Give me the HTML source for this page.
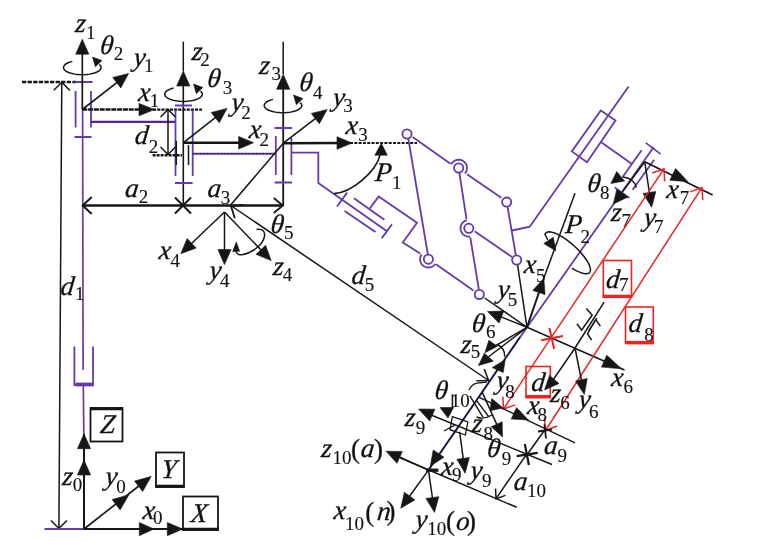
<!DOCTYPE html>
<html><head><meta charset="utf-8"><style>
html,body{margin:0;padding:0;background:#fff;}
svg{display:block;will-change:transform;}
text{font-family:"Liberation Serif",serif;stroke:#111;stroke-width:0.28px;} text.s{stroke-width:0.12px;}
</style></head><body>
<svg width="760" height="554" viewBox="0 0 760 554">
<rect width="760" height="554" fill="#fff"/>
<line x1="22" y1="82" x2="76" y2="82" stroke="#161616" stroke-width="2.3" stroke-linecap="butt" stroke-dasharray="4.3 1.3"/>
<line x1="74.5" y1="82" x2="92.5" y2="82" stroke="#663aa8" stroke-width="2" stroke-linecap="butt"/>
<line x1="61.8" y1="82.3" x2="58.9" y2="528.5" stroke="#161616" stroke-width="1.5" stroke-linecap="butt"/>
<polyline points="69.75,90.35 61.8,82.3 53.75,90.25" fill="none" stroke="#161616" stroke-width="1.5" stroke-linejoin="miter"/>
<polyline points="50.94,520.46 58.9,528.5 66.94,520.54" fill="none" stroke="#161616" stroke-width="1.5" stroke-linejoin="miter"/>
<line x1="82.3" y1="109.5" x2="82.3" y2="49.7" stroke="#161616" stroke-width="1.7" stroke-linecap="butt"/>
<polygon points="82.3,39.2 88.9,54.2 75.7,54.2" fill="#161616" stroke="#161616" stroke-width="0.6" stroke-linejoin="miter"/>
<line x1="82.6" y1="109.5" x2="83.1" y2="370" stroke="#663aa8" stroke-width="1.7" stroke-linecap="butt"/>
<line x1="75.6" y1="91" x2="75.6" y2="127.5" stroke="#663aa8" stroke-width="1.8" stroke-linecap="butt"/>
<line x1="91" y1="91" x2="91" y2="127.5" stroke="#663aa8" stroke-width="1.8" stroke-linecap="butt"/>
<line x1="74.5" y1="137" x2="91.5" y2="137" stroke="#663aa8" stroke-width="2" stroke-linecap="butt"/>
<line x1="91" y1="121.9" x2="176" y2="121.9" stroke="#56248f" stroke-width="2.4" stroke-linecap="butt"/>
<polyline points="72.34,61.39 70.58,61.87 68.97,62.42 67.54,63.04 66.3,63.72 65.28,64.44 64.48,65.21 63.91,66.01 63.58,66.82 63.5,67.65 63.67,68.47 64.08,69.28 64.74,70.07 65.62,70.82 66.72,71.53 68.03,72.19 69.53,72.78 71.19,73.31 73,73.76 74.93,74.12 76.96,74.4 79.06,74.59 81.2,74.69 83.36,74.69 85.5,74.59 87.6,74.41 89.63,74.13 91.56,73.77 93.38,73.32 95.04,72.79 96.54,72.2 97.85,71.54 98.96,70.84 99.85,70.08 100.51,69.3 100.92,68.49 101.1,67.66 101.02,66.84 100.7,66.02 100.14,65.22 99.34,64.46" fill="none" stroke="#161616" stroke-width="1.5" stroke-linejoin="miter"/>
<polygon points="92.5,57 101.93,60.51 95.35,66.65" fill="#161616" stroke="#161616" stroke-width="0.6" stroke-linejoin="miter"/>
<line x1="82.3" y1="109.6" x2="143" y2="109.6" stroke="#161616" stroke-width="2.5" stroke-linecap="butt" stroke-dasharray="5 0.8"/>
<polygon points="154.5,109.6 139,115.8 139,103.4" fill="#161616" stroke="#161616" stroke-width="0.6" stroke-linejoin="miter"/>
<line x1="153" y1="109.6" x2="202" y2="109.6" stroke="#161616" stroke-width="2.3" stroke-linecap="butt" stroke-dasharray="3.2 1"/>
<line x1="82.3" y1="109.5" x2="120.31" y2="79.95" stroke="#161616" stroke-width="1.6" stroke-linecap="butt"/>
<polygon points="128.6,73.5 120.81,87.92 112.71,77.5" fill="#161616" stroke="#161616" stroke-width="0.6" stroke-linejoin="miter"/>
<polyline points="74.4,346.4 74.4,385 93,385 93,346.4" fill="none" stroke="#663aa8" stroke-width="1.8" stroke-linejoin="miter"/>
<line x1="75.5" y1="384.5" x2="93.3" y2="384.5" stroke="#663aa8" stroke-width="3.8" stroke-linecap="butt"/>
<line x1="83.3" y1="385" x2="83.8" y2="434" stroke="#663aa8" stroke-width="1.7" stroke-linecap="butt"/>
<line x1="44.5" y1="529" x2="84" y2="529" stroke="#663aa8" stroke-width="2" stroke-linecap="butt"/>
<line x1="84" y1="529" x2="84" y2="434" stroke="#161616" stroke-width="2" stroke-linecap="butt"/>
<polygon points="84,433.7 90.6,448.7 77.4,448.7" fill="#161616" stroke="#161616" stroke-width="0.6" stroke-linejoin="miter"/>
<polygon points="84,460 90.6,475 77.4,475" fill="#161616" stroke="#161616" stroke-width="0.6" stroke-linejoin="miter"/>
<line x1="84" y1="529.1" x2="184" y2="529.1" stroke="#161616" stroke-width="2" stroke-linecap="butt"/>
<polygon points="153.8,529.1 139.3,535.7 139.3,522.5" fill="#161616" stroke="#161616" stroke-width="0.6" stroke-linejoin="miter"/>
<polygon points="182.8,529.1 167.3,535.7 167.3,522.5" fill="#161616" stroke="#161616" stroke-width="0.6" stroke-linejoin="miter"/>
<line x1="84" y1="529" x2="149" y2="478" stroke="#161616" stroke-width="1.6" stroke-linecap="butt"/>
<polygon points="128.8,494.9 120.12,509.88 112.09,499.4" fill="#161616" stroke="#161616" stroke-width="0.6" stroke-linejoin="miter"/>
<polygon points="151.2,476.4 142.67,491.46 134.53,481.07" fill="#161616" stroke="#161616" stroke-width="0.6" stroke-linejoin="miter"/>
<rect x="90.5" y="408" width="32.0" height="33.5" fill="none" stroke="#161616" stroke-width="1.8"/>
<line x1="90" y1="408.8" x2="123" y2="408.8" stroke="#161616" stroke-width="3" stroke-linecap="butt"/>
<text x="99.53" y="433.35" font-size="27" font-style="italic" fill="#111" transform="translate(99.53,433.35) skewX(-6) translate(-99.53,-433.35)">Z</text>
<rect x="156" y="452.5" width="28" height="34.5" fill="none" stroke="#161616" stroke-width="1.8"/>
<line x1="155.5" y1="486.2" x2="184.5" y2="486.2" stroke="#161616" stroke-width="3" stroke-linecap="butt"/>
<text x="160.84" y="478.15" font-size="27" font-style="italic" fill="#111" transform="translate(160.84,478.15) skewX(-6) translate(-160.84,-478.15)">Y</text>
<rect x="183" y="496.5" width="35" height="33.5" fill="none" stroke="#161616" stroke-width="1.8"/>
<line x1="182.5" y1="529.2" x2="218.5" y2="529.2" stroke="#161616" stroke-width="3" stroke-linecap="butt"/>
<text x="190.21" y="521.55" font-size="27" font-style="italic" fill="#111" transform="translate(190.21,521.55) skewX(-6) translate(-190.21,-521.55)">X</text>
<text x="61.87" y="484.92" font-size="27" font-style="italic" fill="#111" transform="translate(61.87,484.92) skewX(-6) translate(-61.87,-484.92)">z</text>
<text class="s" x="72.74" y="491.35" font-size="19" font-style="normal" fill="#111">0</text>
<text x="104.66" y="485.42" font-size="27" font-style="italic" fill="#111" transform="translate(104.66,485.42) skewX(-6) translate(-104.66,-485.42)">y</text>
<text class="s" x="116.24" y="492.75" font-size="19" font-style="normal" fill="#111">0</text>
<text x="142.27" y="519.32" font-size="27" font-style="italic" fill="#111" transform="translate(142.27,519.32) skewX(-6) translate(-142.27,-519.32)">x</text>
<text class="s" x="153.04" y="524.35" font-size="19" font-style="normal" fill="#111">0</text>
<text x="59.99" y="295.03" font-size="27" font-style="italic" fill="#111" transform="translate(59.99,295.03) skewX(-6) translate(-59.99,-295.03)">d</text>
<text class="s" x="74.89" y="299.54" font-size="19" font-style="normal" fill="#111">1</text>
<line x1="183.3" y1="205.5" x2="183.3" y2="81.5" stroke="#161616" stroke-width="1.6" stroke-linecap="butt"/>
<polygon points="183.3,71 189.9,86 176.7,86" fill="#161616" stroke="#161616" stroke-width="0.6" stroke-linejoin="miter"/>
<line x1="183.3" y1="71" x2="183.3" y2="41.7" stroke="#161616" stroke-width="1.5" stroke-linecap="butt"/>
<polyline points="173.54,88.09 171.78,88.57 170.17,89.12 168.74,89.74 167.5,90.42 166.48,91.14 165.68,91.91 165.11,92.71 164.78,93.52 164.7,94.35 164.87,95.17 165.28,95.98 165.94,96.77 166.82,97.52 167.92,98.23 169.23,98.89 170.73,99.48 172.39,100.01 174.2,100.46 176.13,100.82 178.16,101.1 180.26,101.29 182.4,101.39 184.56,101.39 186.7,101.29 188.8,101.11 190.83,100.83 192.76,100.47 194.58,100.02 196.24,99.49 197.74,98.9 199.05,98.24 200.16,97.54 201.05,96.78 201.71,96 202.12,95.19 202.3,94.36 202.22,93.54 201.9,92.72 201.34,91.92 200.54,91.16" fill="none" stroke="#161616" stroke-width="1.5" stroke-linejoin="miter"/>
<polygon points="193.5,84 202.93,87.51 196.35,93.65" fill="#161616" stroke="#161616" stroke-width="0.6" stroke-linejoin="miter"/>
<line x1="175" y1="105.5" x2="192" y2="105.5" stroke="#663aa8" stroke-width="2" stroke-linecap="butt"/>
<line x1="175.5" y1="110" x2="175.5" y2="176" stroke="#663aa8" stroke-width="1.8" stroke-linecap="butt"/>
<line x1="192.7" y1="110" x2="192.7" y2="176" stroke="#663aa8" stroke-width="1.8" stroke-linecap="butt"/>
<line x1="175" y1="183" x2="192.6" y2="183" stroke="#663aa8" stroke-width="2" stroke-linecap="butt"/>
<line x1="168" y1="109.5" x2="168" y2="154.5" stroke="#161616" stroke-width="1.5" stroke-linecap="butt"/>
<polyline points="175.5,117 168,109.5 160.5,117" fill="none" stroke="#161616" stroke-width="1.5" stroke-linejoin="miter"/>
<polyline points="160.5,147 168,154.5 175.5,147" fill="none" stroke="#161616" stroke-width="1.5" stroke-linejoin="miter"/>
<line x1="152.6" y1="155.2" x2="182" y2="155.2" stroke="#161616" stroke-width="2.6" stroke-linecap="butt" stroke-dasharray="3 1"/>
<line x1="176.3" y1="141" x2="176.3" y2="165" stroke="#161616" stroke-width="1.5" stroke-linecap="butt"/>
<line x1="188.5" y1="145" x2="188.5" y2="165" stroke="#161616" stroke-width="1.5" stroke-linecap="butt"/>
<line x1="183.5" y1="142.7" x2="243.1" y2="142.7" stroke="#161616" stroke-width="2.5" stroke-linecap="butt"/>
<polygon points="253.6,142.7 238.6,149 238.6,136.4" fill="#161616" stroke="#161616" stroke-width="0.6" stroke-linejoin="miter"/>
<line x1="183.5" y1="142.7" x2="218.75" y2="114.9" stroke="#161616" stroke-width="1.6" stroke-linecap="butt"/>
<polygon points="227,108.4 219.31,122.87 211.13,112.5" fill="#161616" stroke="#161616" stroke-width="0.6" stroke-linejoin="miter"/>
<line x1="192.7" y1="153.8" x2="276" y2="153.8" stroke="#663aa8" stroke-width="2" stroke-linecap="butt"/>
<line x1="192.7" y1="153.8" x2="276" y2="153.8" stroke="#161616" stroke-width="1" stroke-linecap="butt" stroke-dasharray="1.5 2"/>
<line x1="82.7" y1="205.5" x2="283" y2="205.5" stroke="#161616" stroke-width="2.4" stroke-linecap="butt"/>
<polyline points="91.7,197 82.7,205.5 91.7,214" fill="none" stroke="#161616" stroke-width="2" stroke-linejoin="miter"/>
<line x1="175" y1="197.5" x2="191" y2="213.5" stroke="#161616" stroke-width="2" stroke-linecap="butt"/>
<line x1="175" y1="213.5" x2="191" y2="197.5" stroke="#161616" stroke-width="2" stroke-linecap="butt"/>
<polyline points="243.77,204.99 231,206 234.79,218.23" fill="none" stroke="#161616" stroke-width="1.8" stroke-linejoin="miter"/>
<polyline points="273.8,213 282.8,205.5 273.8,198" fill="none" stroke="#161616" stroke-width="1.8" stroke-linejoin="miter"/>
<text x="124.39" y="196.69" font-size="27" font-style="italic" fill="#111" transform="translate(124.39,196.69) skewX(-6) translate(-124.39,-196.69)">a</text>
<text class="s" x="138.84" y="202.65" font-size="19" font-style="normal" fill="#111">2</text>
<text x="206.99" y="196.69" font-size="27" font-style="italic" fill="#111" transform="translate(206.99,196.69) skewX(-6) translate(-206.99,-196.69)">a</text>
<text class="s" x="220.75" y="203.85" font-size="19" font-style="normal" fill="#111">3</text>
<text x="191.27" y="60.42" font-size="27" font-style="italic" fill="#111" transform="translate(191.27,60.42) skewX(-6) translate(-191.27,-60.42)">z</text>
<text class="s" x="200.34" y="65.85" font-size="19" font-style="normal" fill="#111">2</text>
<text x="206.85" y="86.9" font-size="27" font-style="italic" fill="#111" transform="translate(206.85,86.9) skewX(-6) translate(-206.85,-86.9)">θ</text>
<text class="s" x="222.65" y="94.05" font-size="19" font-style="normal" fill="#111">3</text>
<text x="230.76" y="110.82" font-size="27" font-style="italic" fill="#111" transform="translate(230.76,110.82) skewX(-6) translate(-230.76,-110.82)">y</text>
<text class="s" x="241.24" y="119.05" font-size="19" font-style="normal" fill="#111">2</text>
<text x="248.47" y="137.72" font-size="27" font-style="italic" fill="#111" transform="translate(248.47,137.72) skewX(-6) translate(-248.47,-137.72)">x</text>
<text class="s" x="259.44" y="145.85" font-size="19" font-style="normal" fill="#111">2</text>
<text x="134.19" y="143.63" font-size="27" font-style="italic" fill="#111" transform="translate(134.19,143.63) skewX(-6) translate(-134.19,-143.63)">d</text>
<text class="s" x="148.74" y="152.85" font-size="19" font-style="normal" fill="#111">2</text>
<text x="74.77" y="32.42" font-size="27" font-style="italic" fill="#111" transform="translate(74.77,32.42) skewX(-6) translate(-74.77,-32.42)">z</text>
<text class="s" x="86.09" y="39.04" font-size="19" font-style="normal" fill="#111">1</text>
<text x="99.55" y="54" font-size="27" font-style="italic" fill="#111" transform="translate(99.55,54) skewX(-6) translate(-99.55,-54)">θ</text>
<text class="s" x="113.64" y="60.45" font-size="19" font-style="normal" fill="#111">2</text>
<text x="132.96" y="65.92" font-size="27" font-style="italic" fill="#111" transform="translate(132.96,65.92) skewX(-6) translate(-132.96,-65.92)">y</text>
<text class="s" x="144.09" y="71.84" font-size="19" font-style="normal" fill="#111">1</text>
<text x="137.87" y="100.92" font-size="27" font-style="italic" fill="#111" transform="translate(137.87,100.92) skewX(-6) translate(-137.87,-100.92)">x</text>
<text class="s" x="149.79" y="106.84" font-size="19" font-style="normal" fill="#111">1</text>
<line x1="283.2" y1="205.9" x2="283.2" y2="84.8" stroke="#161616" stroke-width="1.8" stroke-linecap="butt"/>
<polygon points="283.2,74.3 289.8,89.3 276.6,89.3" fill="#161616" stroke="#161616" stroke-width="0.6" stroke-linejoin="miter"/>
<line x1="283.2" y1="74.3" x2="283.2" y2="41.7" stroke="#161616" stroke-width="1.5" stroke-linecap="butt"/>
<polyline points="273.04,99.39 271.28,99.87 269.67,100.42 268.24,101.04 267,101.72 265.98,102.44 265.18,103.21 264.61,104.01 264.28,104.82 264.2,105.65 264.37,106.47 264.78,107.28 265.44,108.07 266.32,108.82 267.42,109.53 268.73,110.19 270.23,110.78 271.89,111.31 273.7,111.76 275.63,112.12 277.66,112.4 279.76,112.59 281.9,112.69 284.06,112.69 286.2,112.59 288.3,112.41 290.33,112.13 292.26,111.77 294.08,111.32 295.74,110.79 297.24,110.2 298.55,109.54 299.66,108.84 300.55,108.08 301.21,107.3 301.62,106.49 301.8,105.66 301.72,104.84 301.4,104.02 300.84,103.22 300.04,102.46" fill="none" stroke="#161616" stroke-width="1.5" stroke-linejoin="miter"/>
<polygon points="293.5,95 302.93,98.51 296.35,104.65" fill="#161616" stroke="#161616" stroke-width="0.6" stroke-linejoin="miter"/>
<line x1="274.5" y1="128" x2="292" y2="128" stroke="#663aa8" stroke-width="2" stroke-linecap="butt"/>
<line x1="275.8" y1="136" x2="275.8" y2="175" stroke="#663aa8" stroke-width="1.8" stroke-linecap="butt"/>
<line x1="291.4" y1="138" x2="291.4" y2="175" stroke="#663aa8" stroke-width="1.8" stroke-linecap="butt"/>
<line x1="274.5" y1="182.5" x2="292" y2="182.5" stroke="#663aa8" stroke-width="2" stroke-linecap="butt"/>
<line x1="283.3" y1="143.2" x2="341.5" y2="143.03" stroke="#161616" stroke-width="2.5" stroke-linecap="butt"/>
<polygon points="352,143 337.02,149.34 336.98,136.74" fill="#161616" stroke="#161616" stroke-width="0.6" stroke-linejoin="miter"/>
<line x1="350" y1="143" x2="417" y2="143" stroke="#161616" stroke-width="2.2" stroke-linecap="butt" stroke-dasharray="3 1.3"/>
<line x1="283.3" y1="143.2" x2="318.87" y2="115.89" stroke="#161616" stroke-width="1.6" stroke-linecap="butt"/>
<polygon points="327.2,109.5 319.32,123.87 311.28,113.4" fill="#161616" stroke="#161616" stroke-width="0.6" stroke-linejoin="miter"/>
<line x1="283.3" y1="143.2" x2="230.4" y2="205.3" stroke="#161616" stroke-width="1.5" stroke-linecap="butt"/>
<text x="258.77" y="73.72" font-size="27" font-style="italic" fill="#111" transform="translate(258.77,73.72) skewX(-6) translate(-258.77,-73.72)">z</text>
<text class="s" x="271.55" y="80.05" font-size="19" font-style="normal" fill="#111">3</text>
<text x="298.65" y="90.6" font-size="27" font-style="italic" fill="#111" transform="translate(298.65,90.6) skewX(-6) translate(-298.65,-90.6)">θ</text>
<text class="s" x="313.02" y="98.55" font-size="19" font-style="normal" fill="#111">4</text>
<text x="332.16" y="106.02" font-size="27" font-style="italic" fill="#111" transform="translate(332.16,106.02) skewX(-6) translate(-332.16,-106.02)">y</text>
<text class="s" x="343.35" y="112.35" font-size="19" font-style="normal" fill="#111">3</text>
<text x="345.27" y="134.12" font-size="27" font-style="italic" fill="#111" transform="translate(345.27,134.12) skewX(-6) translate(-345.27,-134.12)">x</text>
<text class="s" x="358.25" y="140.85" font-size="19" font-style="normal" fill="#111">3</text>
<polyline points="291.4,152.7 318.3,152.7 318.3,183 387,231.2" fill="none" stroke="#663aa8" stroke-width="1.8" stroke-linejoin="miter"/>
<line x1="337" y1="206.5" x2="347.1" y2="192.6" stroke="#663aa8" stroke-width="1.8" stroke-linecap="butt"/>
<line x1="381.8" y1="238.1" x2="392" y2="224.2" stroke="#663aa8" stroke-width="1.8" stroke-linecap="butt"/>
<line x1="344.6" y1="211" x2="375.5" y2="232" stroke="#663aa8" stroke-width="1.8" stroke-linecap="butt"/>
<line x1="354" y1="198.3" x2="384.4" y2="219.8" stroke="#663aa8" stroke-width="1.8" stroke-linecap="butt"/>
<polyline points="369.8,208.4 378.7,196.4 417,222.8 402.8,242.6 420.2,253.5" fill="none" stroke="#663aa8" stroke-width="1.8" stroke-linejoin="miter"/>
<path d="M334.2,193.6 C352,192.5 376,172 380.2,154.5" fill="none" stroke="#161616" stroke-width="1.6"/>
<polygon points="381.3,143.3 387.3,155.2 374.8,155.2" fill="#161616" stroke="#161616" stroke-width="0.6" stroke-linejoin="miter"/>
<text x="374.4" y="180.95" font-size="27" font-style="italic" fill="#111" transform="translate(374.4,180.95) skewX(-6) translate(-374.4,-180.95)">P</text>
<text class="s" x="391.89" y="189.34" font-size="19" font-style="normal" fill="#111">1</text>
<line x1="407.5" y1="134" x2="427.8" y2="254" stroke="#663aa8" stroke-width="1.8" stroke-linecap="butt"/>
<line x1="412.6" y1="137" x2="450.5" y2="163.8" stroke="#663aa8" stroke-width="1.8" stroke-linecap="butt"/>
<line x1="467" y1="174.3" x2="501.3" y2="197.7" stroke="#663aa8" stroke-width="1.8" stroke-linecap="butt"/>
<line x1="459.4" y1="173" x2="466.5" y2="219.2" stroke="#663aa8" stroke-width="1.8" stroke-linecap="butt"/>
<line x1="507.6" y1="207.2" x2="515.8" y2="255" stroke="#663aa8" stroke-width="1.8" stroke-linecap="butt"/>
<polyline points="512,230.5 529.7,226.7 628.6,86.4" fill="none" stroke="#663aa8" stroke-width="1.8" stroke-linejoin="miter"/>
<line x1="474.6" y1="231.3" x2="512" y2="257" stroke="#663aa8" stroke-width="1.8" stroke-linecap="butt"/>
<line x1="470.3" y1="237.5" x2="478.8" y2="289.2" stroke="#663aa8" stroke-width="1.8" stroke-linecap="butt"/>
<line x1="436" y1="264.2" x2="473.4" y2="290.4" stroke="#663aa8" stroke-width="1.8" stroke-linecap="butt"/>
<polyline points="451.3,164.23 451.65,163.62 452.05,163.03 452.5,162.49 452.99,161.98 453.52,161.52 454.09,161.1 454.69,160.73 455.32,160.42 455.98,160.16 456.66,159.96 457.35,159.81 458.05,159.73 458.75,159.7 459.46,159.73 460.16,159.83 460.85,159.98 461.52,160.19 462.17,160.46 462.8,160.78 463.4,161.16 463.97,161.58 464.49,162.05 464.98,162.57 465.41,163.12 465.81,163.71 466.14,164.33 466.43,164.97 466.66,165.64 466.83,166.33 466.94,167.02 467,167.73 466.99,168.43 466.92,169.14 466.8,169.83 466.61,170.51 466.37,171.18 466.07,171.82 465.72,172.43 465.32,173.01 464.87,173.55" fill="none" stroke="#663aa8" stroke-width="1.8" stroke-linejoin="miter"/>
<polyline points="466.79,220.25 466.18,220.42 465.59,220.65 465.02,220.91 464.46,221.22 463.94,221.57 463.44,221.97 462.97,222.39 462.54,222.85 462.14,223.35 461.78,223.87 461.46,224.42 461.19,224.99 460.96,225.58 460.77,226.19 460.64,226.81 460.55,227.43 460.5,228.06 460.51,228.7 460.56,229.33 460.67,229.95 460.82,230.57 461.01,231.17 461.25,231.76 461.54,232.32 461.87,232.87 462.24,233.38 462.64,233.87 463.09,234.32 463.56,234.74 464.07,235.12 464.6,235.46 465.16,235.76 465.74,236.02 466.34,236.23 466.95,236.39 467.57,236.51 468.2,236.58 468.84,236.6 469.47,236.57 470.1,236.5" fill="none" stroke="#663aa8" stroke-width="1.8" stroke-linejoin="miter"/>
<polyline points="421.6,254.44 421.24,254.99 420.93,255.57 420.67,256.18 420.45,256.8 420.29,257.44 420.17,258.09 420.11,258.74 420.1,259.4 420.14,260.06 420.24,260.71 420.38,261.36 420.58,261.98 420.83,262.6 421.12,263.19 421.46,263.75 421.84,264.29 422.27,264.79 422.73,265.26 423.23,265.69 423.76,266.08 424.32,266.43 424.91,266.73 425.51,266.98 426.14,267.19 426.78,267.34 427.43,267.44 428.09,267.49 428.75,267.49 429.4,267.44 430.05,267.33 430.69,267.18 431.32,266.97 431.93,266.71 432.51,266.41 433.07,266.06 433.6,265.67 434.1,265.24 434.56,264.76 434.98,264.26 435.36,263.72" fill="none" stroke="#663aa8" stroke-width="1.8" stroke-linejoin="miter"/>
<circle cx="407" cy="134" r="4.6" fill="#f8f8f8" stroke="#663aa8" stroke-width="1.8"/>
<circle cx="458.7" cy="168" r="4.6" fill="#f8f8f8" stroke="#663aa8" stroke-width="1.8"/>
<circle cx="506.7" cy="202.1" r="4.6" fill="#f8f8f8" stroke="#663aa8" stroke-width="1.8"/>
<circle cx="468.8" cy="228.3" r="4.6" fill="#f8f8f8" stroke="#663aa8" stroke-width="1.8"/>
<circle cx="428.4" cy="259.2" r="4.6" fill="#f8f8f8" stroke="#663aa8" stroke-width="1.8"/>
<circle cx="479.3" cy="294.5" r="4.6" fill="#f8f8f8" stroke="#663aa8" stroke-width="1.8"/>
<circle cx="516.7" cy="260" r="4.6" fill="#f8f8f8" stroke="#663aa8" stroke-width="1.8"/>
<polygon points="600.8,110.4 615.5,120.5 587,162.2 571.8,151.4" fill="none" stroke="#663aa8" stroke-width="1.8" stroke-linejoin="miter"/>
<line x1="600.8" y1="142" x2="632" y2="164" stroke="#663aa8" stroke-width="1.8" stroke-linecap="butt"/>
<line x1="641.6" y1="150.3" x2="622.6" y2="177.1" stroke="#663aa8" stroke-width="1.8" stroke-linecap="butt"/>
<line x1="654.2" y1="159.7" x2="632.6" y2="189.7" stroke="#663aa8" stroke-width="1.8" stroke-linecap="butt"/>
<line x1="645.8" y1="142.9" x2="660.5" y2="153.9" stroke="#663aa8" stroke-width="1.8" stroke-linecap="butt"/>
<line x1="653.7" y1="147.1" x2="527" y2="327.3" stroke="#663aa8" stroke-width="1.8" stroke-linecap="butt"/>
<line x1="527" y1="327.3" x2="428.5" y2="470" stroke="#663aa8" stroke-width="1.8" stroke-linecap="butt"/>
<line x1="484.7" y1="298" x2="527" y2="327.3" stroke="#161616" stroke-width="1.5" stroke-linecap="butt"/>
<line x1="517.6" y1="265.2" x2="527" y2="327.3" stroke="#161616" stroke-width="1.5" stroke-linecap="butt"/>
<line x1="527" y1="327.3" x2="540.39" y2="288.23" stroke="#161616" stroke-width="2" stroke-linecap="butt"/>
<polygon points="543.8,278.3 545.08,294.6 532.79,290.38" fill="#161616" stroke="#161616" stroke-width="0.6" stroke-linejoin="miter"/>
<line x1="543.8" y1="278.3" x2="575" y2="193.2" stroke="#161616" stroke-width="1.5" stroke-linecap="butt"/>
<line x1="527" y1="327.3" x2="497.25" y2="315.4" stroke="#161616" stroke-width="1.5" stroke-linecap="butt"/>
<polygon points="487.5,311.5 503.84,311.04 499.01,323.11" fill="#161616" stroke="#161616" stroke-width="0.6" stroke-linejoin="miter"/>
<line x1="527" y1="327.3" x2="490" y2="349" stroke="#161616" stroke-width="1.5" stroke-linecap="butt"/>
<line x1="527" y1="327.3" x2="487" y2="358" stroke="#161616" stroke-width="1.5" stroke-linecap="butt"/>
<polygon points="484.9,352.8 488.9,340.3 497.3,346.3" fill="#161616" stroke="#161616" stroke-width="0.6" stroke-linejoin="miter"/>
<polygon points="478.4,365.6 484.4,353.2 493.3,361.2" fill="#161616" stroke="#161616" stroke-width="0.6" stroke-linejoin="miter"/>
<line x1="527" y1="327.3" x2="624.5" y2="370" stroke="#161616" stroke-width="1.5" stroke-linecap="butt"/>
<polygon points="621.5,368.8 601.49,367.07 606.75,355.18" fill="#161616" stroke="#161616" stroke-width="0.6" stroke-linejoin="miter"/>
<path d="M496.8,344.3 Q505,348 504.7,356.7" fill="none" stroke="#161616" stroke-width="1.5"/>
<polyline points="571.89,268.05 574.35,269.55 576.73,270.85 579,271.92 581.12,272.76 583.08,273.35 584.85,273.68 586.4,273.76 587.72,273.58 588.79,273.14 589.6,272.45 590.14,271.51 590.4,270.35 590.38,268.96 590.07,267.38 589.49,265.62 588.64,263.7 587.52,261.64 586.16,259.48 584.57,257.23 582.78,254.93 580.79,252.6 578.64,250.27 576.35,247.98 573.96,245.74 571.48,243.59 568.96,241.56 566.42,239.66 563.9,237.93 561.42,236.38 559.02,235.04 556.72,233.91 554.56,233.02 552.56,232.37 550.75,231.97 549.14,231.84 547.77,231.96 546.63,232.34 545.76,232.97 545.16,233.85 544.83,234.96" fill="none" stroke="#161616" stroke-width="1.5" stroke-linejoin="miter"/>
<path d="M544.8,235.0 Q545.5,235 547.8,240" fill="none" stroke="#161616" stroke-width="1.5"/>
<polygon points="543.8,243.6 553.3,237.3 555.9,250.9" fill="#161616" stroke="#161616" stroke-width="0.6" stroke-linejoin="miter"/>
<text x="564.8" y="233.45" font-size="27" font-style="italic" fill="#111" transform="translate(564.8,233.45) skewX(-6) translate(-564.8,-233.45)">P</text>
<text class="s" x="580.54" y="242.75" font-size="19" font-style="normal" fill="#111">2</text>
<text x="523.47" y="272.62" font-size="27" font-style="italic" fill="#111" transform="translate(523.47,272.62) skewX(-6) translate(-523.47,-272.62)">x</text>
<text class="s" x="535.96" y="282.35" font-size="19" font-style="normal" fill="#111">5</text>
<text x="496.96" y="297.82" font-size="27" font-style="italic" fill="#111" transform="translate(496.96,297.82) skewX(-6) translate(-496.96,-297.82)">y</text>
<text class="s" x="507.86" y="306.35" font-size="19" font-style="normal" fill="#111">5</text>
<text x="471.15" y="331.6" font-size="27" font-style="italic" fill="#111" transform="translate(471.15,331.6) skewX(-6) translate(-471.15,-331.6)">θ</text>
<text class="s" x="486.05" y="338.04" font-size="19" font-style="normal" fill="#111">6</text>
<text x="460.27" y="352.92" font-size="27" font-style="italic" fill="#111" transform="translate(460.27,352.92) skewX(-6) translate(-460.27,-352.92)">z</text>
<text class="s" x="470.86" y="357.95" font-size="19" font-style="normal" fill="#111">5</text>
<line x1="231.5" y1="206" x2="488.6" y2="380.5" stroke="#161616" stroke-width="1.5" stroke-linecap="butt"/>
<polyline points="476.4,380.73 488.6,380.5 484.2,369.11" fill="none" stroke="#161616" stroke-width="1.5" stroke-linejoin="miter"/>
<text x="351.09" y="283.93" font-size="27" font-style="italic" fill="#111" transform="translate(351.09,283.93) skewX(-6) translate(-351.09,-283.93)">d</text>
<text class="s" x="364.86" y="290.95" font-size="19" font-style="normal" fill="#111">5</text>
<line x1="224.5" y1="212" x2="188.4" y2="246.45" stroke="#161616" stroke-width="1.5" stroke-linecap="butt"/>
<polygon points="180.8,253.7 187.1,238.57 196.21,248.12" fill="#161616" stroke="#161616" stroke-width="0.6" stroke-linejoin="miter"/>
<line x1="224.5" y1="212" x2="224.5" y2="254.1" stroke="#161616" stroke-width="1.5" stroke-linecap="butt"/>
<polygon points="224.5,264.6 217.9,249.6 231.1,249.6" fill="#161616" stroke="#161616" stroke-width="0.6" stroke-linejoin="miter"/>
<line x1="224.5" y1="212" x2="263.92" y2="253.03" stroke="#161616" stroke-width="1.5" stroke-linecap="butt"/>
<polygon points="271.2,260.6 256.05,254.36 265.57,245.21" fill="#161616" stroke="#161616" stroke-width="0.6" stroke-linejoin="miter"/>
<path d="M256.6,229.4 C268,227 268,242 252,251 C245,255 237,257 236,251" fill="none" stroke="#161616" stroke-width="1.5"/>
<polygon points="232.7,251.6 236.3,242 239.6,251.2" fill="#161616" stroke="#161616" stroke-width="0.6" stroke-linejoin="miter"/>
<text x="158.27" y="259.12" font-size="27" font-style="italic" fill="#111" transform="translate(158.27,259.12) skewX(-6) translate(-158.27,-259.12)">x</text>
<text class="s" x="170.52" y="267.05" font-size="19" font-style="normal" fill="#111">4</text>
<text x="208.76" y="279.02" font-size="27" font-style="italic" fill="#111" transform="translate(208.76,279.02) skewX(-6) translate(-208.76,-279.02)">y</text>
<text class="s" x="220.12" y="286.85" font-size="19" font-style="normal" fill="#111">4</text>
<text x="272.47" y="275.02" font-size="27" font-style="italic" fill="#111" transform="translate(272.47,275.02) skewX(-6) translate(-272.47,-275.02)">z</text>
<text class="s" x="282.72" y="280.95" font-size="19" font-style="normal" fill="#111">4</text>
<text x="270.05" y="232.9" font-size="27" font-style="italic" fill="#111" transform="translate(270.05,232.9) skewX(-6) translate(-270.05,-232.9)">θ</text>
<text class="s" x="283.96" y="239.25" font-size="19" font-style="normal" fill="#111">5</text>
<line x1="644.7" y1="161.8" x2="712.6" y2="195" stroke="#161616" stroke-width="1.8" stroke-linecap="butt"/>
<polygon points="688,181.8 669.87,180.18 675.58,168.5" fill="#161616" stroke="#161616" stroke-width="0.6" stroke-linejoin="miter"/>
<line x1="644.7" y1="161.8" x2="620" y2="195" stroke="#161616" stroke-width="1.6" stroke-linecap="butt"/>
<line x1="614.7" y1="187.5" x2="629.4" y2="198.1" stroke="#663aa8" stroke-width="1.8" stroke-linecap="butt"/>
<polygon points="613.3,204 616.8,189.3 628,197" fill="#161616" stroke="#161616" stroke-width="0.6" stroke-linejoin="miter"/>
<line x1="644.7" y1="161.8" x2="650.1" y2="196.92" stroke="#161616" stroke-width="1.5" stroke-linecap="butt"/>
<polygon points="651.7,207.3 642.99,193.46 655.84,191.49" fill="#161616" stroke="#161616" stroke-width="0.6" stroke-linejoin="miter"/>
<path d="M622.6,177.1 Q634,178 636.3,187.6" fill="none" stroke="#161616" stroke-width="1.5"/>
<polygon points="610.9,183.5 616.7,171.5 624.5,181" fill="#161616" stroke="#161616" stroke-width="0.6" stroke-linejoin="miter"/>
<text x="586.85" y="192.3" font-size="27" font-style="italic" fill="#111" transform="translate(586.85,192.3) skewX(-6) translate(-586.85,-192.3)">θ</text>
<text class="s" x="600.04" y="199.05" font-size="19" font-style="normal" fill="#111">8</text>
<text x="665.97" y="198.42" font-size="27" font-style="italic" fill="#111" transform="translate(665.97,198.42) skewX(-6) translate(-665.97,-198.42)">x</text>
<text class="s" x="679.87" y="204.05" font-size="19" font-style="normal" fill="#111">7</text>
<text x="610.47" y="221.32" font-size="27" font-style="italic" fill="#111" transform="translate(610.47,221.32) skewX(-6) translate(-610.47,-221.32)">z</text>
<text class="s" x="621.47" y="227.05" font-size="19" font-style="normal" fill="#111">7</text>
<text x="643.16" y="226.22" font-size="27" font-style="italic" fill="#111" transform="translate(643.16,226.22) skewX(-6) translate(-643.16,-226.22)">y</text>
<text class="s" x="653.97" y="233.35" font-size="19" font-style="normal" fill="#111">7</text>
<line x1="664" y1="168.8" x2="503.5" y2="409" stroke="#ec2424" stroke-width="1.5" stroke-linecap="butt"/>
<polyline points="664.67,181.28 664,168.8 652.2,172.93" fill="none" stroke="#ec2424" stroke-width="1.5" stroke-linejoin="miter"/>
<line x1="701.9" y1="187.6" x2="545.5" y2="430.5" stroke="#ec2424" stroke-width="1.5" stroke-linecap="butt"/>
<polyline points="702.77,200.07 701.9,187.6 690.17,191.92" fill="none" stroke="#ec2424" stroke-width="1.5" stroke-linejoin="miter"/>
<polyline points="502.88,396.52 503.5,409 515.31,404.91" fill="none" stroke="#ec2424" stroke-width="1.5" stroke-linejoin="miter"/>
<polyline points="544.41,418.05 545.5,430.5 557.15,425.97" fill="none" stroke="#ec2424" stroke-width="1.5" stroke-linejoin="miter"/>
<line x1="541.2" y1="340.2" x2="562.9" y2="336.1" stroke="#ec2424" stroke-width="2" stroke-linecap="butt"/>
<line x1="549.4" y1="327.9" x2="554.1" y2="349" stroke="#ec2424" stroke-width="2" stroke-linecap="butt"/>
<rect x="603.3" y="260.5" width="28.200000000000045" height="36.80000000000001" fill="none" stroke="#ec2424" stroke-width="1.6"/>
<line x1="602.8" y1="296.3" x2="632" y2="296.3" stroke="#ec2424" stroke-width="3.2" stroke-linecap="butt"/>
<text x="605.49" y="287.93" font-size="27" font-style="italic" fill="#111" transform="translate(605.49,287.93) skewX(-6) translate(-605.49,-287.93)">d</text>
<text class="s" x="618.97" y="290.65" font-size="19" font-style="normal" fill="#111">7</text>
<rect x="625.5" y="307" width="27.799999999999955" height="36.5" fill="none" stroke="#ec2424" stroke-width="1.6"/>
<line x1="625" y1="342.5" x2="653.8" y2="342.5" stroke="#ec2424" stroke-width="3.2" stroke-linecap="butt"/>
<text x="627.99" y="331.53" font-size="27" font-style="italic" fill="#111" transform="translate(627.99,331.53) skewX(-6) translate(-627.99,-331.53)">d</text>
<text class="s" x="644.34" y="340.85" font-size="19" font-style="normal" fill="#111">8</text>
<rect x="526" y="366.5" width="24.299999999999955" height="31.100000000000023" fill="none" stroke="#ec2424" stroke-width="1.6"/>
<line x1="525.5" y1="396.6" x2="550.8" y2="396.6" stroke="#ec2424" stroke-width="3.2" stroke-linecap="butt"/>
<text x="530.69" y="390.63" font-size="27" font-style="italic" fill="#111" transform="translate(530.69,390.63) skewX(-6) translate(-530.69,-390.63)">d</text>
<line x1="604.1" y1="302.2" x2="575" y2="348" stroke="#161616" stroke-width="1.5" stroke-linecap="butt"/>
<line x1="575" y1="348" x2="553" y2="380" stroke="#161616" stroke-width="1.5" stroke-linecap="butt"/>
<polygon points="544.5,390 549.5,375.5 559,383.5" fill="#161616" stroke="#161616" stroke-width="0.6" stroke-linejoin="miter"/>
<line x1="575" y1="348" x2="582.24" y2="384.2" stroke="#161616" stroke-width="1.5" stroke-linecap="butt"/>
<polygon points="584.3,394.5 575.47,380.97 587.24,378.61" fill="#161616" stroke="#161616" stroke-width="0.6" stroke-linejoin="miter"/>
<polyline points="586.3,308.5 592.2,315 581.6,330.2 577,323.8" fill="none" stroke="#161616" stroke-width="1.5" stroke-linejoin="miter"/>
<polyline points="600.4,326.1 595.7,319.6 587.5,333.7 591.6,340.2" fill="none" stroke="#161616" stroke-width="1.5" stroke-linejoin="miter"/>
<line x1="597" y1="318" x2="588.5" y2="331" stroke="#161616" stroke-width="1.2" stroke-linecap="butt"/>
<text x="610.77" y="385.92" font-size="27" font-style="italic" fill="#111" transform="translate(610.77,385.92) skewX(-6) translate(-610.77,-385.92)">x</text>
<text class="s" x="623.45" y="392.84" font-size="19" font-style="normal" fill="#111">6</text>
<text x="549.87" y="401.72" font-size="27" font-style="italic" fill="#111" transform="translate(549.87,401.72) skewX(-6) translate(-549.87,-401.72)">z</text>
<text class="s" x="560.15" y="408.54" font-size="19" font-style="normal" fill="#111">6</text>
<text x="578.06" y="408.42" font-size="27" font-style="italic" fill="#111" transform="translate(578.06,408.42) skewX(-6) translate(-578.06,-408.42)">y</text>
<text class="s" x="588.95" y="417.54" font-size="19" font-style="normal" fill="#111">6</text>
<line x1="478.7" y1="397.1" x2="575" y2="442.9" stroke="#161616" stroke-width="1.5" stroke-linecap="butt"/>
<polygon points="503,407.9 491.7,398.6 490,410.7" fill="#161616" stroke="#161616" stroke-width="0.6" stroke-linejoin="miter"/>
<polygon points="528.4,420 511.23,419.01 516.52,407.57" fill="#161616" stroke="#161616" stroke-width="0.6" stroke-linejoin="miter"/>
<line x1="482.3" y1="392.4" x2="498.46" y2="428.07" stroke="#161616" stroke-width="1.5" stroke-linecap="butt"/>
<polygon points="502.5,437 491.26,426.72 502.19,421.77" fill="#161616" stroke="#161616" stroke-width="0.6" stroke-linejoin="miter"/>
<line x1="428.5" y1="470" x2="520" y2="337" stroke="#1a1030" stroke-width="1.5" stroke-linecap="butt"/>
<polygon points="505.2,359.7 492.3,367.6 503.2,372.6" fill="#161616" stroke="#161616" stroke-width="0.6" stroke-linejoin="miter"/>
<polygon points="430.3,466 433.23,449.92 444.04,457.14" fill="#161616" stroke="#161616" stroke-width="0.6" stroke-linejoin="miter"/>
<line x1="425" y1="412.5" x2="552" y2="464.5" stroke="#161616" stroke-width="1.5" stroke-linecap="butt"/>
<polygon points="418.6,409 434.95,409.15 429.67,421.03" fill="#161616" stroke="#161616" stroke-width="0.6" stroke-linejoin="miter"/>
<polygon points="448,418 440,407.5 453.5,407.5" fill="#161616" stroke="#161616" stroke-width="0.6" stroke-linejoin="miter"/>
<line x1="452.4" y1="394.2" x2="452.4" y2="408.4" stroke="#161616" stroke-width="1.5" stroke-linecap="butt"/>
<polygon points="452.4,416.7 467.8,422 465.4,435 450,429.7" fill="none" stroke="#161616" stroke-width="1.3" stroke-linejoin="miter"/>
<line x1="444" y1="431" x2="455" y2="425" stroke="#161616" stroke-width="1.3" stroke-linecap="butt"/>
<line x1="459.7" y1="431.8" x2="463.75" y2="462.89" stroke="#161616" stroke-width="1.5" stroke-linecap="butt"/>
<polygon points="465.1,473.3 456.92,459.24 469.41,457.61" fill="#161616" stroke="#161616" stroke-width="0.6" stroke-linejoin="miter"/>
<line x1="538" y1="431.5" x2="552" y2="429.5" stroke="#161616" stroke-width="1.8" stroke-linecap="butt"/>
<line x1="544.5" y1="424.5" x2="546" y2="438.5" stroke="#161616" stroke-width="1.8" stroke-linecap="butt"/>
<line x1="516.7" y1="456.2" x2="537.7" y2="452.9" stroke="#161616" stroke-width="2.2" stroke-linecap="butt"/>
<line x1="524.8" y1="444" x2="528.9" y2="465" stroke="#161616" stroke-width="2.2" stroke-linecap="butt"/>
<line x1="527.6" y1="454" x2="545" y2="429.5" stroke="#161616" stroke-width="1.5" stroke-linecap="butt"/>
<line x1="526.6" y1="454.3" x2="496" y2="498.6" stroke="#161616" stroke-width="1.5" stroke-linecap="butt"/>
<polyline points="495.53,488.61 496,498.6 505.46,495.36" fill="none" stroke="#161616" stroke-width="1.5" stroke-linejoin="miter"/>
<line x1="400" y1="457.8" x2="516.7" y2="507.3" stroke="#161616" stroke-width="1.5" stroke-linecap="butt"/>
<polygon points="386,451.2 402.35,451.47 396.98,463.31" fill="#161616" stroke="#161616" stroke-width="0.6" stroke-linejoin="miter"/>
<line x1="428.5" y1="470.1" x2="395" y2="455" stroke="#161616" stroke-width="1.5" stroke-linecap="butt"/>
<line x1="428.5" y1="470.1" x2="406.97" y2="499.71" stroke="#161616" stroke-width="1.5" stroke-linecap="butt"/>
<polygon points="400.8,508.2 404.36,492.25 414.88,499.89" fill="#161616" stroke="#161616" stroke-width="0.6" stroke-linejoin="miter"/>
<line x1="428.5" y1="470.1" x2="433.03" y2="502" stroke="#161616" stroke-width="1.5" stroke-linecap="butt"/>
<polygon points="434.5,512.4 425.96,498.46 438.83,496.64" fill="#161616" stroke="#161616" stroke-width="0.6" stroke-linejoin="miter"/>
<line x1="426" y1="470.2" x2="438.4" y2="470.2" stroke="#161616" stroke-width="3.3" stroke-linecap="butt"/>
<line x1="469.9" y1="395.9" x2="482.9" y2="417.1" stroke="#161616" stroke-width="1.4" stroke-linecap="butt"/>
<line x1="476.6" y1="400.7" x2="488.6" y2="416.5" stroke="#161616" stroke-width="1.4" stroke-linecap="butt"/>
<path d="M476.5,417 Q484,420 492,415" fill="none" stroke="#161616" stroke-width="1.4"/>
<path d="M468.9,390 Q472,384 477,383.1 L486.8,382" fill="none" stroke="#161616" stroke-width="1.4"/>
<text x="495.66" y="388.62" font-size="27" font-style="italic" fill="#111" transform="translate(495.66,388.62) skewX(-6) translate(-495.66,-388.62)">y</text>
<text class="s" x="505.24" y="397.95" font-size="19" font-style="normal" fill="#111">8</text>
<text x="526.87" y="414.42" font-size="27" font-style="italic" fill="#111" transform="translate(526.87,414.42) skewX(-6) translate(-526.87,-414.42)">x</text>
<text class="s" x="537.54" y="421.35" font-size="19" font-style="normal" fill="#111">8</text>
<text x="434.05" y="398.7" font-size="27" font-style="italic" fill="#111" transform="translate(434.05,398.7) skewX(-6) translate(-434.05,-398.7)">θ</text>
<text class="s" x="450.69" y="406.74" font-size="19" font-style="normal" fill="#111">10</text>
<text x="404.27" y="426.22" font-size="27" font-style="italic" fill="#111" transform="translate(404.27,426.22) skewX(-6) translate(-404.27,-426.22)">z</text>
<text class="s" x="415.63" y="433.75" font-size="19" font-style="normal" fill="#111">9</text>
<text x="471.27" y="431.92" font-size="27" font-style="italic" fill="#111" transform="translate(471.27,431.92) skewX(-6) translate(-471.27,-431.92)">z</text>
<text class="s" x="483.44" y="440.05" font-size="19" font-style="normal" fill="#111">8</text>
<text x="486.55" y="457.4" font-size="27" font-style="italic" fill="#111" transform="translate(486.55,457.4) skewX(-6) translate(-486.55,-457.4)">θ</text>
<text class="s" x="501.83" y="464.55" font-size="19" font-style="normal" fill="#111">9</text>
<text x="543.39" y="454.49" font-size="27" font-style="italic" fill="#111" transform="translate(543.39,454.49) skewX(-6) translate(-543.39,-454.49)">a</text>
<text class="s" x="557.53" y="462.35" font-size="19" font-style="normal" fill="#111">9</text>
<text x="513.19" y="490.09" font-size="27" font-style="italic" fill="#111" transform="translate(513.19,490.09) skewX(-6) translate(-513.19,-490.09)">a</text>
<text class="s" x="526.89" y="496.74" font-size="19" font-style="normal" fill="#111">10</text>
<text x="440.77" y="474.52" font-size="27" font-style="italic" fill="#111" transform="translate(440.77,474.52) skewX(-6) translate(-440.77,-474.52)">x</text>
<text class="s" x="451.93" y="480.85" font-size="19" font-style="normal" fill="#111">9</text>
<text x="469.66" y="478.72" font-size="27" font-style="italic" fill="#111" transform="translate(469.66,478.72) skewX(-6) translate(-469.66,-478.72)">y</text>
<text class="s" x="482.03" y="487.15" font-size="19" font-style="normal" fill="#111">9</text>
<text x="320.87" y="456.62" font-size="27" font-style="italic" fill="#111" transform="translate(320.87,456.62) skewX(-6) translate(-320.87,-456.62)">z</text>
<text class="s" x="332.59" y="464.34" font-size="19" font-style="normal" fill="#111">10</text>
<text x="350.92" y="457.63" font-size="27" font-style="normal" fill="#111">(</text>
<text x="360.19" y="457.09" font-size="27" font-style="italic" fill="#111" transform="translate(360.19,457.09) skewX(-6) translate(-360.19,-457.09)">a</text>
<text x="373.99" y="457.63" font-size="27" font-style="normal" fill="#111">)</text>
<text x="333.27" y="519.12" font-size="27" font-style="italic" fill="#111" transform="translate(333.27,519.12) skewX(-6) translate(-333.27,-519.12)">x</text>
<text class="s" x="344.89" y="530.04" font-size="19" font-style="normal" fill="#111">10</text>
<text x="365.32" y="520.83" font-size="27" font-style="normal" fill="#111">(</text>
<text x="376.42" y="520.29" font-size="27" font-style="italic" fill="#111" transform="translate(376.42,520.29) skewX(-6) translate(-376.42,-520.29)">n</text>
<text x="386.39" y="519.93" font-size="27" font-style="normal" fill="#111">)</text>
<text x="414.86" y="527.92" font-size="27" font-style="italic" fill="#111" transform="translate(414.86,527.92) skewX(-6) translate(-414.86,-527.92)">y</text>
<text class="s" x="427.29" y="534.54" font-size="19" font-style="normal" fill="#111">10</text>
<text x="445.92" y="529.63" font-size="27" font-style="normal" fill="#111">(</text>
<text x="455.39" y="529.59" font-size="27" font-style="italic" fill="#111" transform="translate(455.39,529.59) skewX(-6) translate(-455.39,-529.59)">o</text>
<text x="467.09" y="529.63" font-size="27" font-style="normal" fill="#111">)</text>
</svg></body></html>
